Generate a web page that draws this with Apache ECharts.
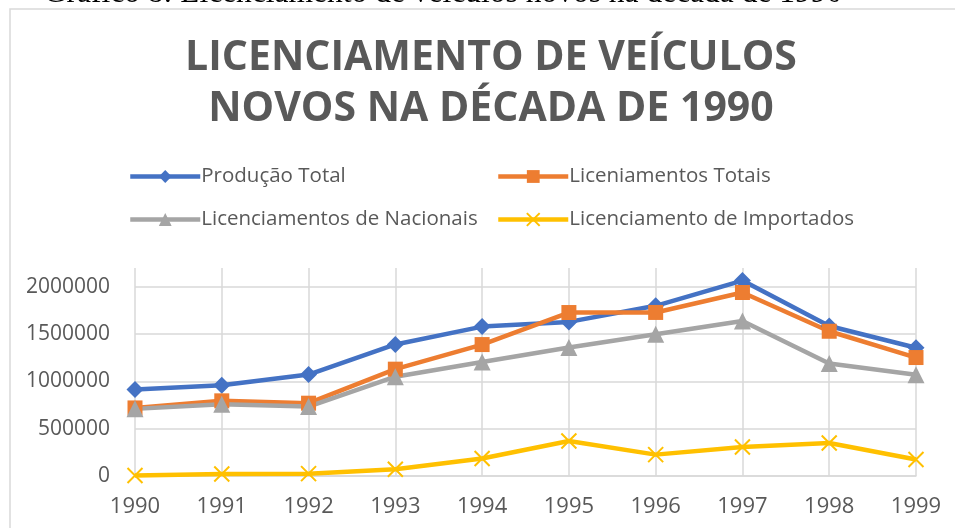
<!DOCTYPE html>
<html><head><meta charset="utf-8">
<script src="https://cdn.jsdelivr.net/npm/echarts@6/dist/echarts.min.js"></script>
<style>html,body{margin:0;padding:0;background:#fff;}#c{width:955px;height:528px;}</style>
</head><body><div id="c"></div>
<script>
const years = ['1990','1991','1992','1993','1994','1995','1996','1997','1998','1999'];
const producaoTotal = [914000, 960000, 1073000, 1391000, 1580000, 1630000, 1800000, 2067000, 1586000, 1356000];
const licenciamentosTotais = [720000, 795000, 770000, 1130000, 1390000, 1729000, 1730000, 1941000, 1531000, 1253000];
const licenciamentosNacionais = [710000, 760000, 735000, 1050000, 1206000, 1359000, 1499000, 1640000, 1189000, 1070000];
const licenciamentosImportados = [5000, 21000, 25000, 71000, 185000, 370000, 226000, 307000, 349000, 174000];
const seriesNames = ['Produção Total','Liceniamentos Totais','Licenciamentos de Nacionais','Licenciamento de Importados'];
const titleText = 'LICENCIAMENTO DE VEÍCULOS\nNOVOS NA DÉCADA DE 1990';
const captionText = 'Gráfico 8: Licenciamento de veículos novos na década de 1990';

const chart = echarts.init(document.getElementById('c'));
const txt = '#595959';
const xPath = 'path://M0,0L10,10M10,0L0,10';
const legendCommon = {orient:'vertical', top:166, padding:0, itemGap:22, itemWidth:70, itemHeight:16,
  lineStyle:{width:4.5},
  textStyle:{fontFamily:'"Open Sans"', fontSize:20.5, color:txt, padding:[0,0,0,-4]}};
chart.setOption({
  animation: false,
  graphic: [
    {type:'rect', shape:{x:10,y:9,width:960,height:540}, style:{fill:'none', stroke:'#d9d9d9', lineWidth:1.5}, silent:true},
    {type:'text', x:443, y:-22, style:{text:captionText, font:'31.5px "Liberation Serif"', fill:'#000', align:'center', verticalAlign:'top'}}
  ],
  title: {
    text: titleText, left: 486, top: 28, textAlign: 'center',
    textStyle: {fontFamily:'"Open Sans"', fontWeight:'bold', fontSize:41, color:txt, lineHeight:51}
  },
  legend: [
    Object.assign({data:[seriesNames[0], seriesNames[2]], left:128}, legendCommon),
    Object.assign({data:[seriesNames[1], seriesNames[3]], left:496}, legendCommon)
  ],
  grid: {left:135, right:39, top:268, bottom:52, containLabel:false},
  xAxis: {
    type:'category', data:years, boundaryGap:false,
    axisLine:{lineStyle:{color:'#d9d9d9', width:1.5}}, axisTick:{show:false},
    splitLine:{show:true, lineStyle:{color:'#d9d9d9', width:1.5}},
    axisLabel:{color:txt, fontFamily:'"Open Sans"', fontSize:22, margin:20}
  },
  yAxis: {
    type:'value', min:0, max:2200000, interval:500000,
    axisLine:{show:false}, axisTick:{show:false},
    splitLine:{show:true, showMaxLine:false, lineStyle:{color:'#d9d9d9', width:1.5}},
    axisLabel:{color:txt, fontFamily:'"Open Sans"', fontSize:21, margin:25, showMaxLabel:false,
      formatter: v => (v % 500000 === 0 ? String(v) : '')}
  },
  series: [
    {name:seriesNames[0], type:'line', data:producaoTotal, symbol:'diamond', symbolSize:17,
     lineStyle:{color:'#4472c4', width:4.5}, itemStyle:{color:'#4472c4'}},
    {name:seriesNames[1], type:'line', data:licenciamentosTotais, symbol:'rect', symbolSize:15,
     lineStyle:{color:'#ed7d31', width:4.5}, itemStyle:{color:'#ed7d31'}},
    {name:seriesNames[2], type:'line', data:licenciamentosNacionais, symbol:'triangle', symbolSize:17,
     lineStyle:{color:'#a5a5a5', width:4.5}, itemStyle:{color:'#a5a5a5'}},
    {name:seriesNames[3], type:'line', data:licenciamentosImportados, symbol:xPath, symbolSize:15,
     lineStyle:{color:'#ffc000', width:4.5}, itemStyle:{color:'#ffc000', borderColor:'#ffc000', borderWidth:2}}
  ]
});
</script></body></html>
